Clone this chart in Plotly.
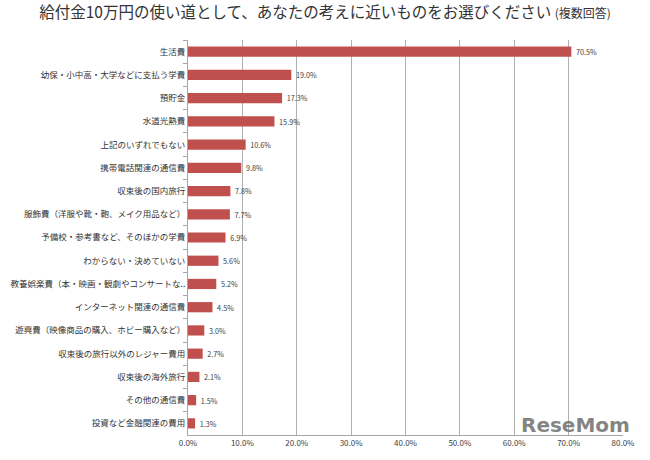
import plotly.graph_objects as go

categories = [
    "生活費",
    "幼保・小中高・大学などに支払う学費",
    "預貯金",
    "水道光熱費",
    "上記のいずれでもない",
    "携帯電話関連の通信費",
    "収束後の国内旅行",
    "服飾費（洋服や靴・鞄、メイク用品など）",
    "予備校・参考書など、そのほかの学費",
    "わからない・決めていない",
    "教養娯楽費（本・映画・観劇やコンサートな..",
    "インターネット関連の通信費",
    "遊興費（映像商品の購入、ホビー購入など）",
    "収束後の旅行以外のレジャー費用",
    "収束後の海外旅行",
    "その他の通信費",
    "投資など金融関連の費用",
]
values = [70.5, 19.0, 17.3, 15.9, 10.6, 9.8, 7.8, 7.7, 6.9, 5.6, 5.2, 4.5, 3.0, 2.7, 2.1, 1.5, 1.3]
tick_vals = [0, 10, 20, 30, 40, 50, 60, 70, 80]
tick_text = ["0.0%", "10.0%", "20.0%", "30.0%", "40.0%", "50.0%", "60.0%", "70.0%", "80.0%"]

font = "Noto Sans CJK JP"

fig = go.Figure(go.Bar(
    x=values,
    y=categories,
    orientation="h",
    width=0.44,
    marker=dict(color="#c0504d", line=dict(width=0)),
    text=[f"\u00a0{v:.1f}%" for v in values],
    textposition="outside",
    textfont=dict(size=8.5, color="#404040", family=font),
    cliponaxis=False,
))

fig.update_layout(
    width=650, height=460,
    margin=dict(l=188, r=27, t=40, b=25, autoexpand=False),
    paper_bgcolor="white", plot_bgcolor="white",
    showlegend=False,
    title=dict(
        text="給付金10万円の使い道として、あなたの考えに近いものをお選びください <span style='font-size:12px'>(複数回答)</span>",
        x=0.5, xanchor="center", y=0.972, yanchor="middle",
        font=dict(size=15.5, color="#333333", family=font),
    ),
    font=dict(family=font, color="#333333"),
)

fig.update_xaxes(
    range=[0, 80], tickvals=tick_vals, ticktext=tick_text,
    showgrid=True, gridcolor="#b0b0b0", gridwidth=1,
    showline=True, linecolor="#a6a6a6",
    ticks="", tickfont=dict(size=8, color="#404040"),
    zeroline=False, fixedrange=True, automargin=False,
)
fig.update_yaxes(
    autorange="reversed",
    showline=True, linecolor="#a6a6a6",
    ticks="outside", tickson="boundaries", ticklen=4, tickcolor="#a6a6a6",
    tickfont=dict(size=8.5, color="#333333"),
    showgrid=False, automargin=False,
)

fig.add_annotation(
    text="<b>ReseMom</b>", xref="paper", yref="paper",
    x=1.02, y=-0.01, xanchor="right", yanchor="bottom",
    showarrow=False, font=dict(size=20, color="rgba(110,110,110,0.85)", family="DejaVu Sans"),
)

fig.write_html("out.html", config={"displayModeBar": False},
               post_script="document.body.style.margin='0';")
